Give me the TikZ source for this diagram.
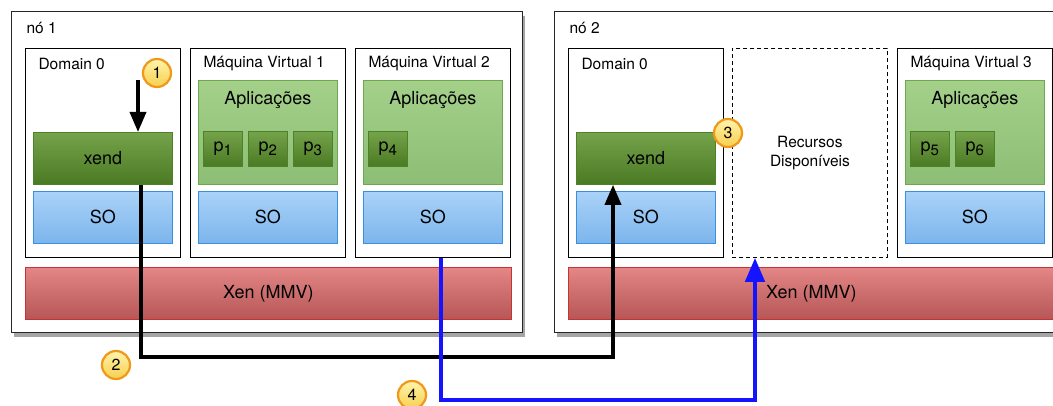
\documentclass[tikz,border=0pt]{standalone}
\usepackage{fontspec}
\setmainfont{TeX Gyre Heros}
\usetikzlibrary{arrows.meta,shadows}

\definecolor{xendtop}{HTML}{74A34B}
\definecolor{xendbot}{HTML}{4B7A24}
\definecolor{xendline}{HTML}{4E8226}
\definecolor{apptop}{HTML}{A4D08A}
\definecolor{appbot}{HTML}{8DBE75}
\definecolor{appline}{HTML}{6EA84E}
\definecolor{sotop}{HTML}{AAD2F8}
\definecolor{sobot}{HTML}{7CB5EC}
\definecolor{soline}{HTML}{3A90E0}
\definecolor{xentop}{HTML}{E48686}
\definecolor{xenbot}{HTML}{B65656}
\definecolor{xenline}{HTML}{C83232}
\definecolor{badgetop}{HTML}{FFF3AA}
\definecolor{badgebot}{HTML}{F7CF4E}
\definecolor{badgeline}{HTML}{F0981A}
\definecolor{migblue}{HTML}{1414FF}

\newcommand{\procname}[1]{p\raisebox{-0.35ex}{\fontsize{15}{15}\selectfont #1}}

\tikzset{
	bigtext/.style={font=\fontsize{18}{22}\selectfont},
	smalltext/.style={font=\fontsize{15.5}{19}\selectfont},
	nodebox/.style={draw=black!85, line width=1.2pt, fill=white, anchor=north west,
		minimum width=511pt, minimum height=321pt,
		drop shadow={shadow xshift=2pt, shadow yshift=-4pt, opacity=0.5, fill=black!70}},
	vmbox/.style={draw, line width=0.8pt, fill=white, anchor=north west,
		minimum width=155pt, minimum height=209pt},
	freebox/.style={vmbox, dash pattern=on 4pt off 3pt, smalltext, align=center},
	xendbox/.style={draw=xendline, line width=0.8pt, top color=xendtop, bottom color=xendbot,
		anchor=north west, minimum width=139pt, minimum height=52pt, bigtext},
	sobox/.style={draw=soline, line width=0.8pt, top color=sotop, bottom color=sobot,
		anchor=north west, minimum width=139pt, minimum height=52pt, bigtext},
	appbox/.style={draw=appline, line width=0.8pt, top color=apptop, bottom color=appbot,
		anchor=north west, minimum width=139pt, minimum height=104pt},
	procbox/.style={draw=xendline, line width=0.8pt, top color=xendtop, bottom color=xendbot,
		anchor=north west, minimum width=39pt, minimum height=35pt, inner sep=0pt, bigtext},
	xenbox/.style={draw=xenline, line width=0.8pt, top color=xentop, bottom color=xenbot,
		anchor=north west, minimum width=486pt, minimum height=52pt, bigtext},
	badge/.style={circle, draw=badgeline, line width=2.2pt, top color=badgetop, bottom color=badgebot,
		minimum size=28pt, inner sep=0pt, font=\fontsize{16}{18}\selectfont},
	flowline/.style={line width=3.5pt, -{Triangle[length=20pt,width=16pt]}},
	migline/.style={line width=4.5pt, migblue, -{Triangle[length=24pt,width=19pt]}}
}

\begin{document}
\begin{tikzpicture}[x=1pt, y=-1pt]
	\useasboundingbox (0, 0) rectangle (1053, 406);

	\node[nodebox] (n1) at (11, 11) {};
	\node[nodebox] (n2) at (554, 11) {};
	\node[smalltext, anchor=west] (n1lbl) at ([xshift=12pt, yshift=-17pt]n1.north west) {nó 1};
	\node[smalltext, anchor=west] (n2lbl) at ([xshift=12pt, yshift=-17pt]n2.north west) {nó 2};

	\node[vmbox] (dom1) at (25, 48) {};
	\node[vmbox] (vm1) at (190, 48) {};
	\node[vmbox] (vm2) at (355, 48) {};
	\node[vmbox] (dom2) at (568, 48) {};
	\node[freebox] (free) at (732, 48) {Recursos\\Disponíveis};
	\node[vmbox] (vm3) at (897, 48) {};

	\node[smalltext, anchor=west] (dom1lbl) at ([xshift=10pt, yshift=-16pt]dom1.north west) {Domain 0};
	\node[smalltext, anchor=west] (vm1lbl) at ([xshift=10pt, yshift=-16pt]vm1.north west) {Máquina Virtual 1};
	\node[smalltext, anchor=west] (vm2lbl) at ([xshift=10pt, yshift=-16pt]vm2.north west) {Máquina Virtual 2};
	\node[smalltext, anchor=west] (dom2lbl) at ([xshift=10pt, yshift=-16pt]dom2.north west) {Domain 0};
	\node[smalltext, anchor=west] (vm3lbl) at ([xshift=10pt, yshift=-16pt]vm3.north west) {Máquina Virtual 3};

	\node[xendbox] (xend1) at (33, 132) {xend};
	\node[xendbox] (xend2) at (576, 132) {xend};

	\node[appbox] (apps1) at (198, 80) {};
	\node[appbox] (apps2) at (363, 80) {};
	\node[appbox] (apps3) at (905, 80) {};
	\node[bigtext] (apps1lbl) at ([yshift=-20pt]apps1.north) {Aplicações};
	\node[bigtext] (apps2lbl) at ([yshift=-20pt]apps2.north) {Aplicações};
	\node[bigtext] (apps3lbl) at ([yshift=-20pt]apps3.north) {Aplicações};

	\node[procbox] (p1) at ([xshift=5pt, yshift=-51pt]apps1.north west) {\procname{1}};
	\node[procbox] (p2) at ([xshift=50pt, yshift=-51pt]apps1.north west) {\procname{2}};
	\node[procbox] (p3) at ([xshift=95pt, yshift=-51pt]apps1.north west) {\procname{3}};
	\node[procbox] (p4) at ([xshift=5pt, yshift=-51pt]apps2.north west) {\procname{4}};
	\node[procbox] (p5) at ([xshift=5pt, yshift=-51pt]apps3.north west) {\procname{5}};
	\node[procbox] (p6) at ([xshift=50pt, yshift=-51pt]apps3.north west) {\procname{6}};

	\node[sobox] (so1) at (33, 191) {SO};
	\node[sobox] (so2) at (198, 191) {SO};
	\node[sobox] (so3) at (363, 191) {SO};
	\node[sobox] (so4) at (576, 191) {SO};
	\node[sobox] (so5) at (905, 191) {SO};

	\node[xenbox] (xen1) at (25, 267) {Xen (MMV)};
	\node[xenbox] (xen2) at (568, 267) {Xen (MMV)};

	\coordinate (start1) at (138, 80);
	\coordinate (bend2a) at (141, 357);
	\coordinate (bend2b) at (613, 357);
	\coordinate (bend4a) at (441, 400);
	\coordinate (bend4b) at (755, 400);

	\draw[flowline] (start1) -- (start1 |- xend1.north);
	\draw[flowline] (bend2a |- xend1.south) -- (bend2a) -- (bend2b) -- (bend2b |- xend2.south);
	\draw[migline] (bend4a |- vm2.south) -- (bend4a) -- (bend4b) -- (bend4b |- free.south);

	\node[badge] (b1) at (157, 73) {1};
	\node[badge] (b2) at (116, 365) {2};
	\node[badge] (b3) at (728, 133) {3};
	\node[badge] (b4) at (412, 395) {4};

\end{tikzpicture}
\end{document}
